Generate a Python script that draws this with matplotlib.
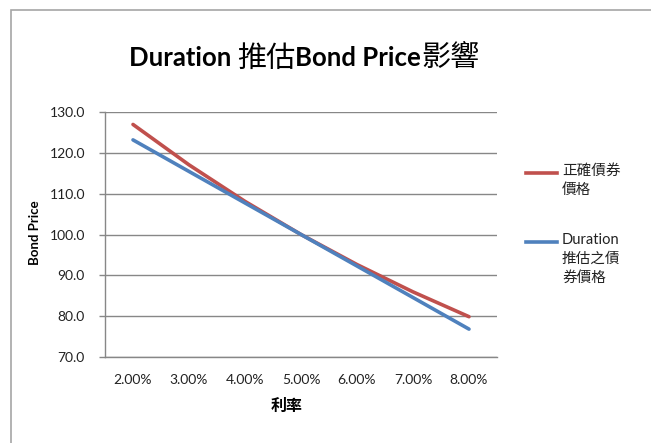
import matplotlib
matplotlib.use("Agg")
import matplotlib.pyplot as plt
from matplotlib.lines import Line2D
from matplotlib.patches import Rectangle
from matplotlib.transforms import offset_copy

# Yields and bond prices (10-year 5% coupon bond)
rates = ["2.00%", "3.00%", "4.00%", "5.00%", "6.00%", "7.00%", "8.00%"]
true_price = [126.95, 117.06, 108.11, 100.00, 92.64, 85.95, 79.87]
duration_price = [123.17, 115.44, 107.72, 100.00, 92.28, 84.56, 76.83]

# title split into Latin / CJK runs so each script gets its own size
title_parts = ["Duration ", "推估", "Bond Price", "影響"]
y_label = "Bond Price"
x_label = "利率"
legend_labels = ["正確債券\n價格", "Duration\n推估之債\n券價格"]
y_ticks = [70, 80, 90, 100, 110, 120, 130]

RED = "#C0504D"
BLUE = "#4F81BD"
GRID = "#878787"
FONT = ["Lato", "Noto Sans CJK TC", "DejaVu Sans"]
CJK = ["Noto Sans CJK TC", "DejaVu Sans"]
plt.rcParams["font.family"] = FONT

W, H = 651, 443
fig = plt.figure(figsize=(W / 100, H / 100), dpi=100)


def fx(px):
    return px / W


def fy(py):
    return 1 - py / H


# chart-area frame
fig.add_artist(Rectangle((fx(11), fy(445)), fx(700), 435 / H,
                         transform=fig.transFigure, fill=False,
                         edgecolor="#a6a6a6", linewidth=1.2))

left, right, top, bottom = 105, 497, 112, 357
ax = fig.add_axes([fx(left), fy(bottom), fx(right - left), (bottom - top) / H])

x = list(range(len(rates)))
ax.plot(x, true_price, color=RED, lw=2.6, solid_capstyle="round")
ax.plot(x, duration_price, color=BLUE, lw=2.6, solid_capstyle="round")

ax.set_xlim(-0.5, len(rates) - 0.5)
ax.set_ylim(70, 130)
ax.set_yticks(y_ticks)
ax.set_yticklabels([f"{v:.1f}" for v in y_ticks], fontsize=10, color="#222222")
ax.set_xticks(x)
ax.set_xticklabels(rates, fontsize=10, color="#222222")
ax.tick_params(axis="y", length=4, width=1, color=GRID, pad=10.5)
ax.tick_params(axis="x", length=0, pad=12)

ax.grid(axis="y", color=GRID, lw=1)
ax.set_axisbelow(True)
for side in ["top", "right"]:
    ax.spines[side].set_visible(False)
for side in ["left", "bottom"]:
    ax.spines[side].set_color(GRID)
    ax.spines[side].set_linewidth(1)

# title: lay out the runs left to right on a common baseline, then centre
renderer = fig.canvas.get_renderer()
styles = [dict(fontsize=18.5, fontweight="bold", family=FONT),
          dict(fontsize=21, fontweight="medium", family=CJK),
          dict(fontsize=18.5, fontweight="bold", family=FONT),
          dict(fontsize=21, fontweight="medium", family=CJK)]
pieces = []
offset = 0.0
for part, st in zip(title_parts, styles):
    t = fig.text(0, fy(66.5), part, ha="left", va="baseline", color="#000000", **st)
    w = t.get_window_extent(renderer).width
    pieces.append((t, offset))
    offset += w
start = 304 - offset / 2
for t, off in pieces:
    t.set_transform(offset_copy(fig.transFigure, fig=fig, x=(start + off) * 72 / 100,
                                y=0, units="points"))

fig.text(fx(35), fy(233), y_label, rotation=90, ha="center", va="center",
         fontsize=9.5, fontweight="bold")
fig.text(fx(287), fy(406), x_label, ha="center", va="center",
         fontsize=11.5, fontweight="bold", family=CJK)

# legend drawn as line samples with wrapped labels
legend_rows = [(173, RED, legend_labels[0]), (242, BLUE, legend_labels[1])]
for ypix, col, lab in legend_rows:
    fig.add_artist(Line2D([fx(526), fx(557)], [fy(ypix), fy(ypix)],
                          transform=fig.transFigure, color=col, lw=2.6))
    fig.text(fx(562), fy(ypix - 9), lab, ha="left", va="top",
             fontsize=10.5, linespacing=1.45, color="#222222")

fig.savefig("out.png", dpi=100)
